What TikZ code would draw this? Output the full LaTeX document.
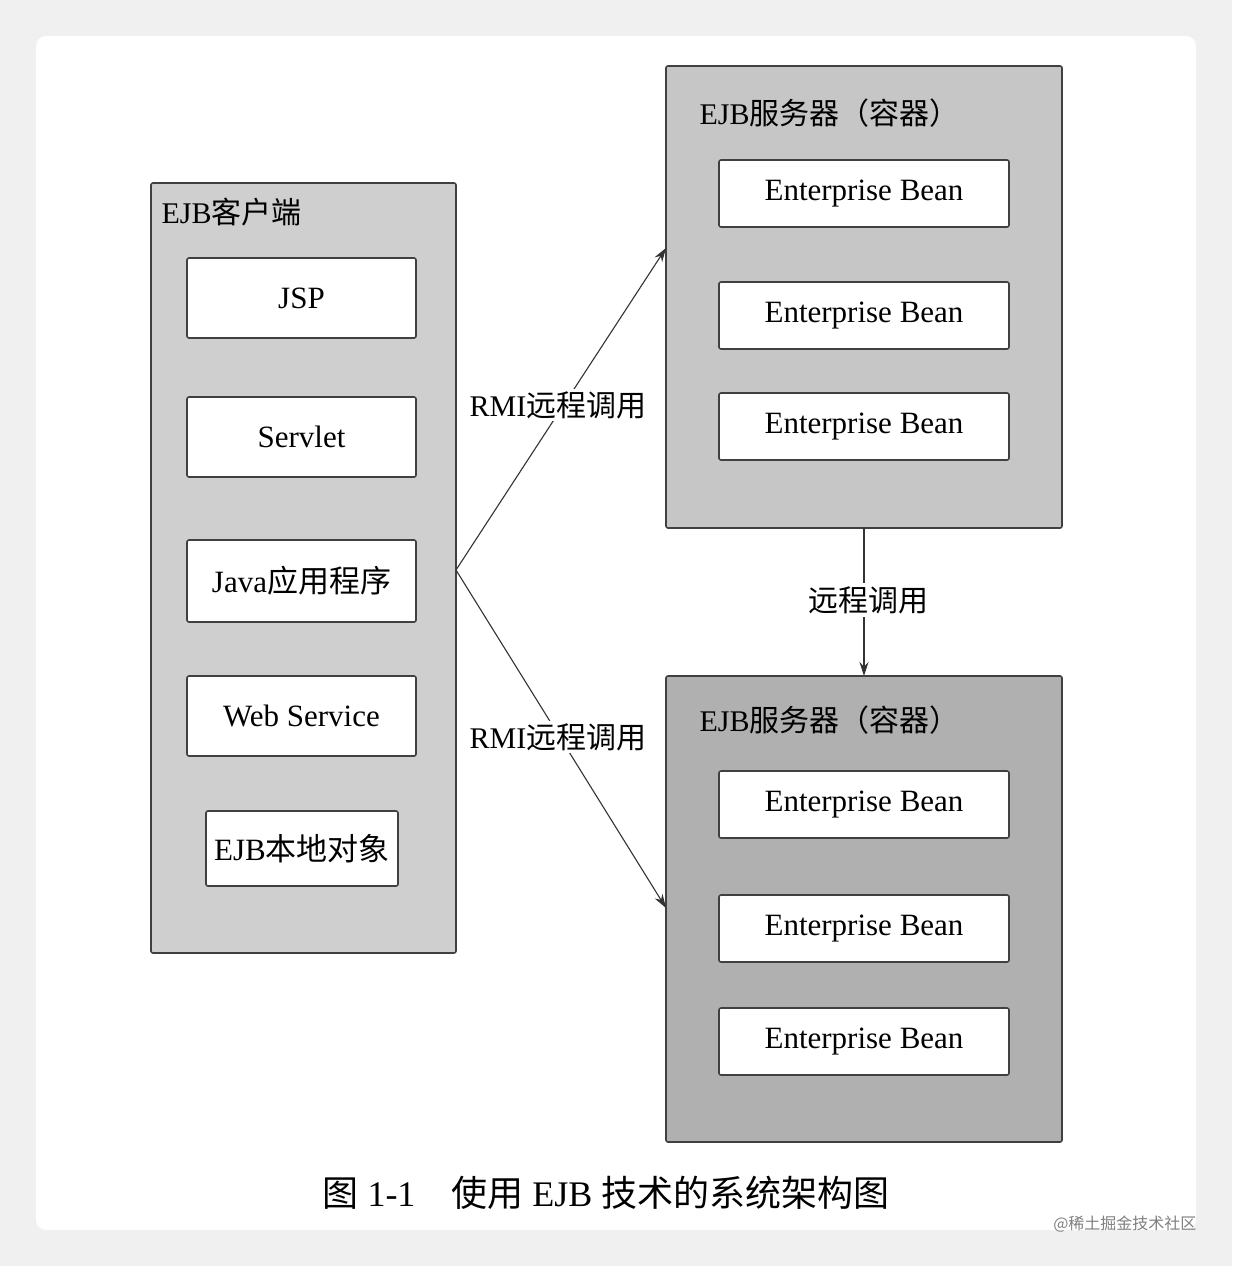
\documentclass[tikz,border=0pt]{standalone}
\usepackage{fontspec}
\setmainfont{Liberation Serif}
\newfontfamily\cjk{Noto Sans CJK SC}
\usetikzlibrary{positioning,calc,arrows.meta}
\definecolor{clientgray}{HTML}{CFCFCF}
\definecolor{srvgray}{HTML}{C6C6C6}
\definecolor{srvdark}{HTML}{B0B0B0}
\begin{document}
\begin{tikzpicture}[x=1pt,y=-1pt,
    box/.style={draw=black!75, line width=1.6pt, rounded corners=2pt},
    item/.style={box, fill=white, font=\fontsize{31}{34}\selectfont},
    title/.style={anchor=west, font=\fontsize{30}{34}\selectfont},
    arrow/.style={-{Stealth[length=14pt,width=9pt]}, line width=1.1pt, draw=black!80}
]
    % page
    \fill[gray!12] (0,0) rectangle (1232,1266);
    \fill[white, rounded corners=10pt] (36,36) rectangle (1196,1230);

    % EJB client
    \draw[box, fill=clientgray] (151,183) rectangle (456,953);
    \node[title] at (158,212) {EJB{\cjk 客户端}};
    \coordinate (cl) at (456,570);
    \draw[item] (187,258) rectangle node {JSP} (416,338);
    \draw[item] (187,397) rectangle node {Servlet} (416,477);
    \draw[item] (187,540) rectangle node {Java{\cjk 应用程序}} (416,622);
    \draw[item] (187,676) rectangle node {Web Service} (416,756);
    \draw[item] (206,811) rectangle node {EJB{\cjk 本地对象}} (398,886);

    % EJB server 1
    \draw[box, fill=srvgray] (666,66) rectangle (1062,528);
    \node[title] at (696,113) {EJB{\cjk 服务器（容器）}};
    \foreach \y in {160,282,393}
        \draw[item] (719,\y) rectangle node {Enterprise Bean} (1009,\y+67);

    % EJB server 2
    \draw[box, fill=srvdark] (666,676) rectangle (1062,1142);
    \node[title] at (696,720) {EJB{\cjk 服务器（容器）}};
    \foreach \y in {771,895,1008}
        \draw[item] (719,\y) rectangle node {Enterprise Bean} (1009,\y+67);

    % connectors
    \coordinate (s1in) at (666,248);
    \coordinate (s2in) at (666,908);
    \coordinate (s1out) at (864,528);
    \coordinate (s2top) at (864,676);
    \draw[arrow] (cl) -- (s1in);
    \draw[arrow] (cl) -- (s2in);
    \draw[arrow] (s1out) -- (s2top);
    \node[fill=white, inner sep=2pt, font=\fontsize{30}{34}\selectfont] at (558,405) {RMI{\cjk 远程调用}};
    \node[fill=white, inner sep=2pt, font=\fontsize{30}{34}\selectfont] at (558,737) {RMI{\cjk 远程调用}};
    \node[fill=white, font=\fontsize{30}{34}\selectfont\cjk] at (868,600) {远程调用};

    % caption
    \node[font=\fontsize{36}{40}\selectfont] at (606,1193) {{\cjk 图} 1-1\quad{\cjk 使用} EJB {\cjk 技术的系统架构图}};
    \node[anchor=east, text=gray, font=\fontsize{16}{18}\selectfont\cjk] at (1200,1224) {@稀土掘金技术社区};
\end{tikzpicture}
\end{document}
